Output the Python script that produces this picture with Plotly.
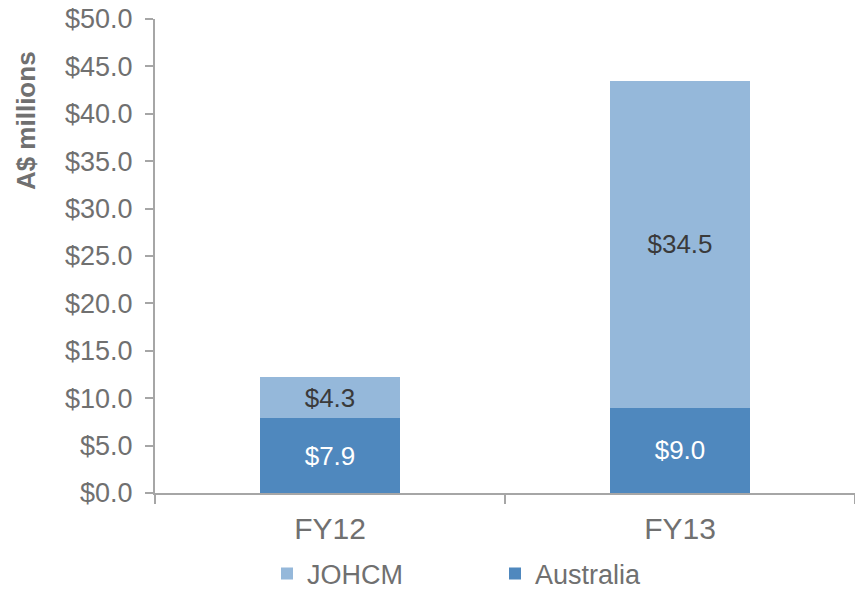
import plotly.graph_objects as go

categories = ["FY12", "FY13"]
australia = [7.9, 9.0]
johcm = [4.3, 34.5]
y_ticks = [0, 5, 10, 15, 20, 25, 30, 35, 40, 45, 50]
y_tick_labels = ["$%.1f" % v for v in y_ticks]
y_title = "A$ millions"

FONT = "Liberation Sans, Arial, sans-serif"
GRAY = "#707070"
AXIS = "#a6a6a6"

fig = go.Figure()
fig.add_trace(go.Bar(
    x=categories, y=australia, name="Australia",
    marker=dict(color="#4f88be", line=dict(width=0)),
    text=["$%.1f" % v for v in australia], textposition="inside",
    insidetextanchor="middle",
    textfont=dict(family=FONT, size=26, color="white"),
    width=0.4,
))
fig.add_trace(go.Bar(
    x=categories, y=johcm, name="JOHCM",
    marker=dict(color="#95b8da", line=dict(width=0)),
    text=["$%.1f" % v for v in johcm], textposition="inside",
    insidetextanchor="middle",
    textfont=dict(family=FONT, size=26, color="#3a3a3a"),
    width=0.4,
))

fig.update_layout(
    barmode="stack",
    width=855, height=590,
    margin=dict(l=155, r=0, t=19, b=97, autoexpand=False),
    paper_bgcolor="white", plot_bgcolor="white",
    font=dict(family=FONT, color=GRAY),
    uniformtext=dict(mode=False),
    legend=dict(
        orientation="h", traceorder="reversed",
        x=0.16, xanchor="left", y=-0.171, yanchor="middle",
        font=dict(family=FONT, size=27, color=GRAY),
        entrywidth=183, entrywidthmode="pixels",
        itemwidth=30, borderwidth=0,
    ),
    showlegend=True,
    annotations=[dict(
        text="<b>" + y_title + "</b>", textangle=-90,
        xref="paper", yref="paper", x=-0.184, y=0.785,
        xanchor="center", yanchor="middle", showarrow=False,
        font=dict(family=FONT, size=26, color=GRAY),
    )],
)
fig.update_xaxes(
    range=[-0.5, 1.5], showline=True, linecolor=AXIS, linewidth=2,
    ticks="outside", tickson="boundaries", ticklen=9, tickcolor=AXIS, tickwidth=2,
    tickfont=dict(family=FONT, size=30, color=GRAY), showgrid=False,
    ticklabelstandoff=8,
)
fig.update_yaxes(
    range=[0, 50], tickvals=y_ticks, ticktext=y_tick_labels,
    showline=True, linecolor=AXIS, linewidth=2,
    ticks="outside", ticklen=8, tickcolor=AXIS, tickwidth=2,
    tickfont=dict(family=FONT, size=27, color=GRAY), showgrid=False, zeroline=False,
    ticklabelstandoff=7,
)

fig.write_html("out.html")
